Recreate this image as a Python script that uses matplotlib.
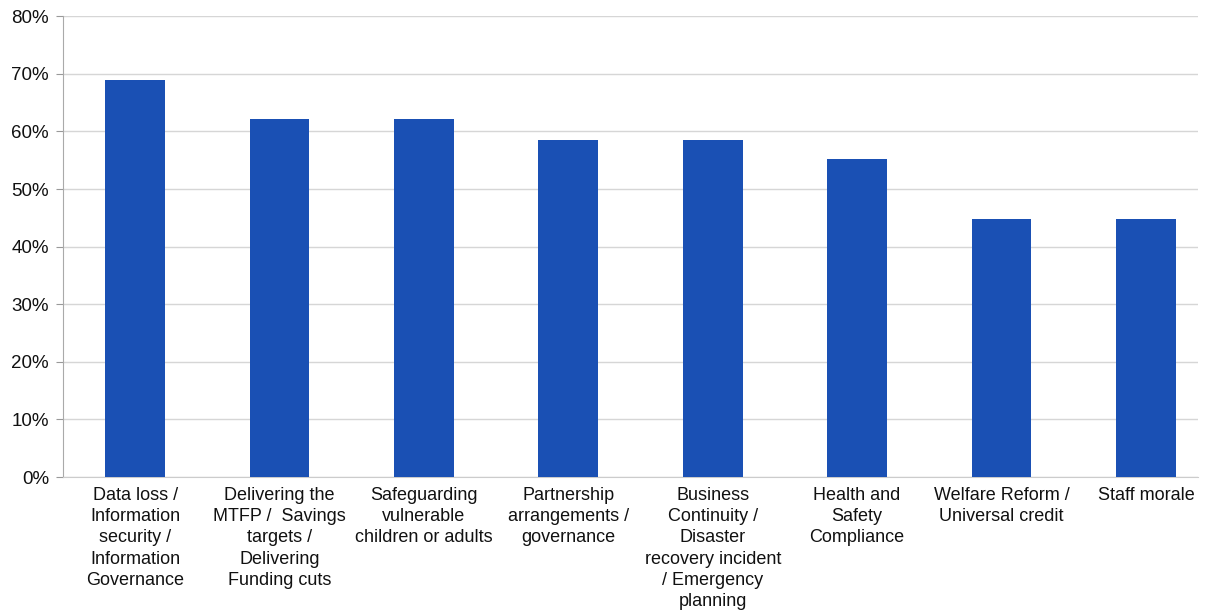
import matplotlib
matplotlib.use("Agg")
import matplotlib.pyplot as plt
from matplotlib.ticker import PercentFormatter

categories = [
    "Data loss /\nInformation\nsecurity /\nInformation\nGovernance",
    "Delivering the\nMTFP /  Savings\ntargets /\nDelivering\nFunding cuts",
    "Safeguarding\nvulnerable\nchildren or adults",
    "Partnership\narrangements /\ngovernance",
    "Business\nContinuity /\nDisaster\nrecovery incident\n/ Emergency\nplanning",
    "Health and\nSafety\nCompliance",
    "Welfare Reform /\nUniversal credit",
    "Staff morale",
]
values = [69.0, 62.1, 62.1, 58.6, 58.6, 55.2, 44.8, 44.8]
yticks = [0, 10, 20, 30, 40, 50, 60, 70, 80]

plt.rcParams['font.family'] = ['Liberation Sans', 'DejaVu Sans']

fig = plt.figure(figsize=(12.1, 6.16), dpi=100)
ax = fig.add_axes([0.052, 0.2256, 0.938, 0.748])

x = list(range(len(categories)))
ax.bar(x, values, width=0.415, color="#1a50b4", zorder=3)

ax.set_xlim(-0.5, len(categories) - 0.64)
ax.set_ylim(0, 80)
ax.set_yticks(yticks)
ax.yaxis.set_major_formatter(PercentFormatter(decimals=0))
ax.set_xticks(x)
ax.set_xticklabels(categories, fontsize=13, color="#111111", linespacing=1.33)
ax.tick_params(axis='x', length=0, pad=7)
ax.tick_params(axis='y', labelsize=13.5, length=5, color="#999999", labelcolor="#111111", pad=5)

ax.grid(axis='y', color="#d6d6d6", linewidth=1.0, zorder=0)
for s in ['top', 'right']:
    ax.spines[s].set_visible(False)
ax.spines['left'].set_color("#aaaaaa")
ax.spines['bottom'].set_color("#cccccc")

fig.savefig("out.png", dpi=100)
